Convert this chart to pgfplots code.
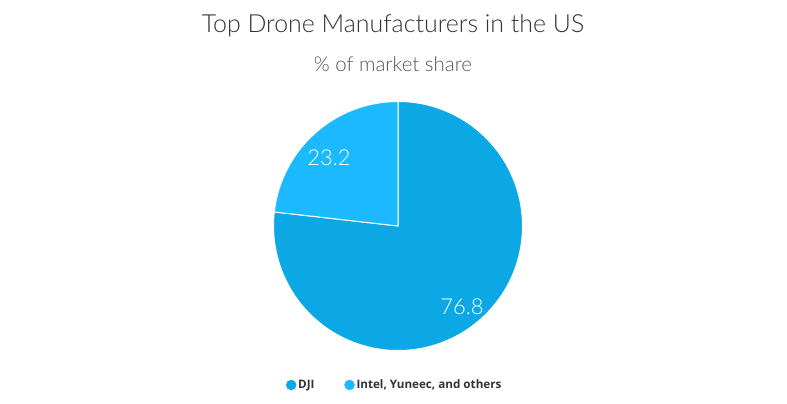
\documentclass[border=0pt]{standalone}
\usepackage{pgfplots}
\pgfplotsset{compat=1.18}
\usepackage{pgfplotstable}
\usepackage{fontspec}
\setmainfont{Lato}
\newfontfamily\lightfont{Lato Light}
\newfontfamily\legfont{Open Sans}
\definecolor{dji}{HTML}{0CA8E6}
\definecolor{oth}{HTML}{1DB9FE}
\definecolor{titlec}{HTML}{333333}
\definecolor{subc}{HTML}{555555}
\definecolor{legc}{HTML}{333333}

\pgfplotstableread{
label value
DJI 76.8
Others 23.2
}\piedata

\begin{document}
\begin{tikzpicture}
\pgfplotstablegetelem{0}{value}\of\piedata \edef\vA{\pgfplotsretval}
\pgfplotstablegetelem{1}{value}\of\piedata \edef\vB{\pgfplotsretval}
\pgfmathsetmacro{\angA}{90-3.6*\vA}
\begin{axis}[x=1bp,y=1bp, xmin=0,xmax=787,ymin=0,ymax=403,
  hide axis, clip=false, scale only axis,
  legend columns=2,
  legend style={draw=none, fill=none, at={(axis cs:286,18)}, anchor=west,
    font=\legfont\bfseries\fontsize{11.7}{13}\selectfont, text=legc,
    /tikz/every even column/.append style={column sep=28bp},
    inner sep=0pt},
  legend cell align=left]
\addlegendimage{only marks, mark=*, mark size=5bp, mark options={draw=dji, fill=dji}}
\addlegendentry{DJI}
\addlegendimage{only marks, mark=*, mark size=5bp, mark options={draw=oth, fill=oth}}
\addlegendentry{Intel, Yuneec, and others}
% invisible frame to fix picture size
\path (axis cs:0,0) rectangle (axis cs:787,403);
% sectors
\filldraw[fill=dji, draw=white, line width=1bp, line join=round]
  (axis cs:398,177) -- ++(90:124.5bp) arc[start angle=90, end angle=\angA, radius=124.5bp] -- cycle;
\filldraw[fill=oth, draw=white, line width=1bp, line join=round]
  (axis cs:398,177) -- ++(\angA:124.5bp) arc[start angle=\angA, end angle=-270, radius=124.5bp] -- cycle;
% data labels
\node[text=white, font=\lightfont\fontsize{22}{24}\selectfont] at (axis cs:329,245) {\vB};
\node[text=white, font=\lightfont\fontsize{22}{24}\selectfont] at (axis cs:462,96) {\vA};
% titles
\node[anchor=base, text=titlec, font=\lightfont\fontsize{25}{28}\selectfont] at (axis cs:393,371) {Top Drone Manufacturers in the US};
\node[anchor=base, text=subc, font=\lightfont\fontsize{20.5}{23}\selectfont] at (axis cs:393,332) {\% of market share};
\end{axis}
\end{tikzpicture}
\end{document}
